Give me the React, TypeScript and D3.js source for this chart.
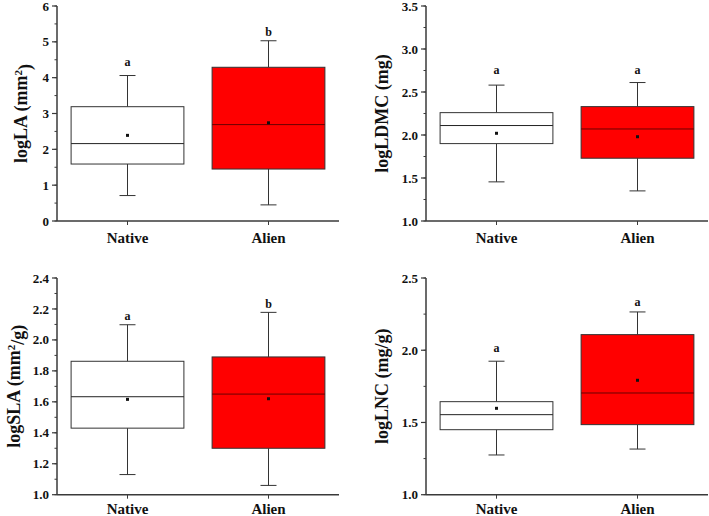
import React from "react";
import * as d3 from "d3";

// groups on the x axis
const categories = ["Native", "Alien"];

// box stats: [whisker low, Q1, median, Q3, whisker high, mean]
const laNative = [0.71, 1.59, 2.16, 3.19, 4.06, 2.39];
const laAlien = [0.45, 1.45, 2.69, 4.29, 5.03, 2.74];
const ldmcNative = [1.455, 1.9, 2.11, 2.26, 2.58, 2.02];
const ldmcAlien = [1.35, 1.73, 2.07, 2.33, 2.61, 1.98];
const slaNative = [1.13, 1.43, 1.633, 1.862, 2.098, 1.616];
const slaAlien = [1.06, 1.3, 1.65, 1.89, 2.178, 1.62];
const lncNative = [1.275, 1.45, 1.554, 1.644, 1.924, 1.598];
const lncAlien = [1.316, 1.485, 1.704, 2.108, 2.265, 1.792];

// significance letters and the height they sit at
const laLetters = ["a", "b"];
const laLetterY = [4.33, 5.17];
const ldmcLetters = ["a", "a"];
const ldmcLetterY = [2.705, 2.705];
const slaLetters = ["a", "b"];
const slaLetterY = [2.128, 2.206];
const lncLetters = ["a", "a"];
const lncLetterY = [1.988, 2.303];

// y axis ticks
const laTicks = [0, 1, 2, 3, 4, 5, 6];
const ldmcTicks = [1.0, 1.5, 2.0, 2.5, 3.0, 3.5];
const slaTicks = [1.0, 1.2, 1.4, 1.6, 1.8, 2.0, 2.2, 2.4];
const lncTicks = [1.0, 1.5, 2.0, 2.5];

const FONT = "'Liberation Serif', 'Times New Roman', serif";
const AXIS = "#3a3a3a";
const fills = ["#ffffff", "#ff0000"];
const medianColors = ["#222222", "#6a0000"];

type PanelProps = {
  left: number;
  right: number;
  top: number;
  bottom: number;
  domain: [number, number];
  ticks: number[];
  minorStep: number;
  digits: number;
  stats: number[][];
  letters: string[];
  letterY: number[];
  label: React.ReactNode;
  labelX: number;
  catOffset: number;
};

function Panel(p: PanelProps) {
  const x = d3.scaleBand<string>().domain(categories).range([p.left, p.right]).padding(0);
  const y = d3.scaleLinear().domain(p.domain).range([p.bottom, p.top]);
  const boxW = x.bandwidth() * 0.8;
  const capW = 16;
  const minor = d3.range(p.domain[0], p.domain[1] + 1e-9, p.minorStep);
  const fmt = d3.format(`.${p.digits}f`);
  const midY = (p.top + p.bottom) / 2;

  return (
    <g>
      {/* boxes */}
      {categories.map((c, i) => {
        const [lo, q1, med, q3, hi, mean] = p.stats[i];
        const cx = x(c)! + x.bandwidth() / 2;
        return (
          <g key={c}>
            <line x1={cx} x2={cx} y1={y(hi)} y2={y(q3)} stroke="#333" strokeWidth={1} />
            <line x1={cx} x2={cx} y1={y(q1)} y2={y(lo)} stroke="#333" strokeWidth={1} />
            <line x1={cx - capW / 2} x2={cx + capW / 2} y1={y(hi)} y2={y(hi)} stroke="#333" strokeWidth={1} />
            <line x1={cx - capW / 2} x2={cx + capW / 2} y1={y(lo)} y2={y(lo)} stroke="#333" strokeWidth={1} />
            <rect
              x={cx - boxW / 2}
              y={y(q3)}
              width={boxW}
              height={y(q1) - y(q3)}
              fill={fills[i]}
              stroke="#333"
              strokeWidth={1}
            />
            <line x1={cx - boxW / 2} x2={cx + boxW / 2} y1={y(med)} y2={y(med)} stroke={medianColors[i]} strokeWidth={1} />
            <rect x={cx - 1.5} y={y(mean) - 1.5} width={3} height={3} fill="#111" />
            <text
              x={cx}
              y={y(p.letterY[i])}
              textAnchor="middle"
              fontFamily={FONT}
              fontWeight="bold"
              fontSize={12}
              fill="#111"
            >
              {p.letters[i]}
            </text>
            <line x1={cx} x2={cx} y1={p.bottom} y2={p.bottom + 4} stroke={AXIS} strokeWidth={1} />
            <text
              x={cx}
              y={p.bottom + p.catOffset}
              textAnchor="middle"
              fontFamily={FONT}
              fontWeight="bold"
              fontSize={15}
              fill="#111"
            >
              {c}
            </text>
          </g>
        );
      })}

      {/* y axis */}
      {minor.map((t) => (
        <line key={"m" + t} x1={p.left - 2.5} x2={p.left} y1={y(t)} y2={y(t)} stroke={AXIS} strokeWidth={1} />
      ))}
      {p.ticks.map((t) => (
        <g key={t}>
          <line x1={p.left - 5} x2={p.left} y1={y(t)} y2={y(t)} stroke={AXIS} strokeWidth={1.2} />
          <text
            x={p.left - 8}
            y={y(t)}
            dy="0.35em"
            textAnchor="end"
            fontFamily={FONT}
            fontWeight="bold"
            fontSize={13}
            fill="#111"
          >
            {fmt(t)}
          </text>
        </g>
      ))}
      <line x1={p.left} x2={p.left} y1={p.top} y2={p.bottom} stroke={AXIS} strokeWidth={1.5} />
      <line x1={p.left} x2={p.right} y1={p.bottom} y2={p.bottom} stroke={AXIS} strokeWidth={1.5} />

      <text
        transform={`translate(${p.labelX},${midY}) rotate(-90)`}
        textAnchor="middle"
        dy="0.35em"
        fontFamily={FONT}
        fontWeight="bold"
        fontSize={18}
        fill="#111"
      >
        {p.label}
      </text>
    </g>
  );
}

export default function App() {
  return (
    <svg width={709} height={516} style={{ position: "absolute", left: 0, top: 0, background: "#fff" }}>
      <Panel
        left={57}
        right={339}
        top={6}
        bottom={221}
        domain={[0, 6]}
        ticks={laTicks}
        minorStep={0.5}
        digits={0}
        stats={[laNative, laAlien]}
        letters={laLetters}
        letterY={laLetterY}
        labelX={21}
        catOffset={22}
        label={
          <>
            logLA (mm<tspan dy="-0.5em" fontSize={11}>2</tspan>
            <tspan dy="0.5em">)</tspan>
          </>
        }
      />
      <Panel
        left={426}
        right={708}
        top={6}
        bottom={221}
        domain={[1, 3.5]}
        ticks={ldmcTicks}
        minorStep={0.25}
        digits={1}
        stats={[ldmcNative, ldmcAlien]}
        letters={ldmcLetters}
        letterY={ldmcLetterY}
        labelX={382}
        catOffset={22}
        label="logLDMC (mg)"
      />
      <Panel
        left={57}
        right={339}
        top={278}
        bottom={494.7}
        domain={[1, 2.4]}
        ticks={slaTicks}
        minorStep={0.1}
        digits={1}
        stats={[slaNative, slaAlien]}
        letters={slaLetters}
        letterY={slaLetterY}
        labelX={14}
        catOffset={19}
        label={
          <>
            logSLA (mm<tspan dy="-0.5em" fontSize={11}>2</tspan>
            <tspan dy="0.5em">/g)</tspan>
          </>
        }
      />
      <Panel
        left={426}
        right={708}
        top={278}
        bottom={494.7}
        domain={[1, 2.5]}
        ticks={lncTicks}
        minorStep={0.25}
        digits={1}
        stats={[lncNative, lncAlien]}
        letters={lncLetters}
        letterY={lncLetterY}
        labelX={382}
        catOffset={19}
        label="logLNC (mg/g)"
      />
    </svg>
  );
}
